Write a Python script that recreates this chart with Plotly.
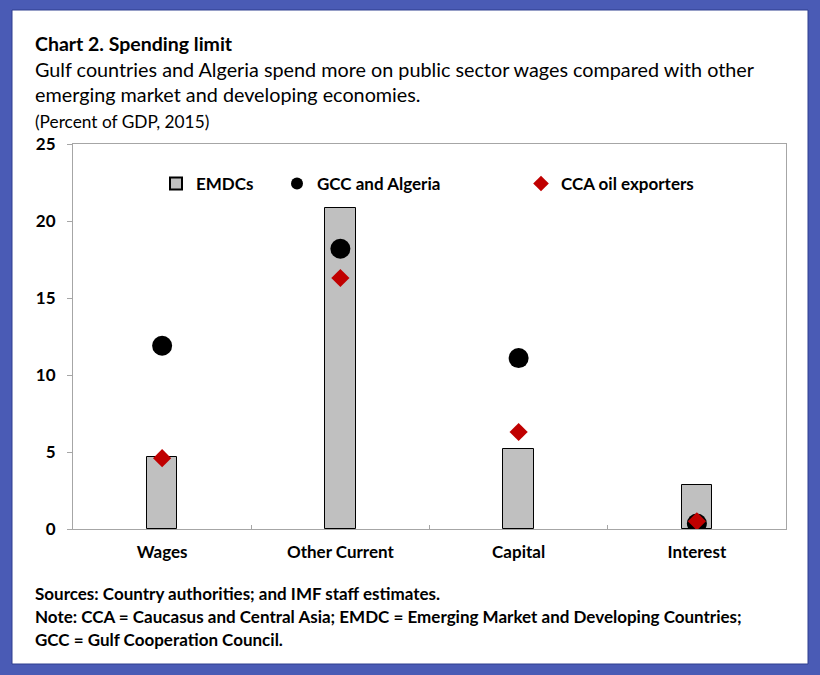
import plotly.graph_objects as go

categories = ["Wages", "Other Current", "Capital", "Interest"]
emdc = [4.7, 20.85, 5.2, 2.85]
gcc = [11.9, 18.2, 11.1, 0.35]
cca = [4.6, 16.3, 6.3, 0.5]
y_ticks = [0, 5, 10, 15, 20, 25]

W, H = 820, 675
L, R, T, B = 73, 786, 144, 529
pw, ph = R - L, B - T

def px(x):
    return (x - L) / pw

def py(y):
    return (B - y) / ph

FONT = "Lato, Liberation Sans, sans-serif"

fig = go.Figure()
fig.add_trace(go.Bar(x=categories, y=emdc, name="EMDCs", width=0.17,
                     marker=dict(color="#c0c0c0", line=dict(color="black", width=1)),
                     legend="legend"))
fig.add_trace(go.Scatter(x=categories, y=gcc, name="GCC and Algeria", mode="markers",
                         marker=dict(symbol="circle", size=20, color="black"),
                         legend="legend2"))
fig.add_trace(go.Scatter(x=categories, y=cca, name="CCA oil exporters", mode="markers",
                         marker=dict(symbol="diamond", size=14, color="#c00000"),
                         legend="legend3"))

leg = dict(orientation="h", yanchor="middle", xanchor="left", bgcolor="rgba(0,0,0,0)",
           font=dict(family=FONT, size=17, color="black", weight="bold"), itemsizing="constant")
fig.update_layout(
    legend=dict(leg, x=px(156), y=py(184)),
    legend2=dict(leg, x=px(277), y=py(184)),
    legend3=dict(leg, x=px(521), y=py(184)),
)

fig.update_layout(
    width=W, height=H,
    margin=dict(l=L, r=W - R, t=T, b=H - B),
    paper_bgcolor="#4a5bb5",
    plot_bgcolor="white",
    showlegend=True,
    xaxis=dict(range=[-0.5, 3.5], showline=True, linecolor="#a6a6a6", linewidth=1, mirror=True,
               ticks="inside", tickson="boundaries", ticklen=4, tickcolor="#a6a6a6",
               ticklabelstandoff=8,
               tickfont=dict(family=FONT, size=17, color="black", weight="bold"),
               showgrid=False),
    yaxis=dict(range=[0, 25], tickvals=y_ticks, showline=True, linecolor="#a6a6a6", linewidth=1,
               mirror=True, ticks="outside", ticklen=5, tickcolor="#a6a6a6", showgrid=False,
               zeroline=False, ticklabelstandoff=8,
               tickfont=dict(family=FONT, size=17, color="black", weight="bold")),
    bargap=0,
)

fig.add_shape(type="rect", xref="paper", yref="paper", x0=px(12), x1=px(808), y0=py(664), y1=py(10),
              fillcolor="white", line=dict(color="#2f3f8f", width=1), layer="below")

def ann(text, x, y, size, bold=False):
    fig.add_annotation(text=text, xref="paper", yref="paper", x=px(x), y=py(y), xanchor="left",
                       yanchor="middle", showarrow=False,
                       font=dict(family=FONT, size=size, color="black", weight="bold" if bold else "normal"))

ann("Chart 2. Spending limit", 33, 43, 19.5, True)
ann("Gulf countries and Algeria spend more on public sector wages compared with other", 33, 69, 19.8)
ann("emerging market and developing economies.", 33, 94, 19.8)
ann("(Percent of GDP, 2015)", 33, 121, 17.3)
ann("Sources: Country authorities; and IMF staff estimates.", 33, 593, 17, True)
ann("Note: CCA = Caucasus and Central Asia; EMDC = Emerging Market and Developing Countries;", 33, 616, 17, True)
ann("GCC = Gulf Cooperation Council.", 33, 639, 17, True)

fig.write_html("out.html", config={"displayModeBar": False},
               post_script="document.body.style.margin='0px';")
